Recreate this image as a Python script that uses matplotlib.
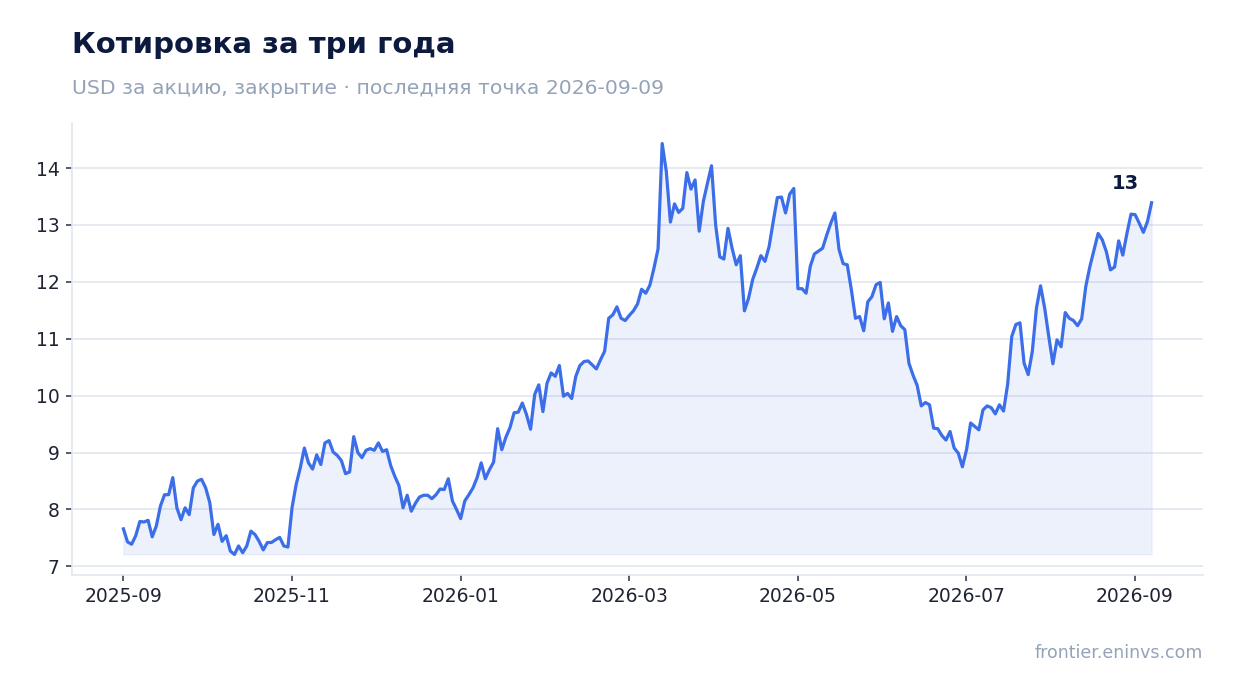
import matplotlib
matplotlib.use("Agg")
import matplotlib.pyplot as plt
import matplotlib.dates as mdates
import pandas as pd
import numpy as np

title = "Котировка за три года"
subtitle = "USD за акцию, закрытие · последняя точка 2026-09-09"
source = "frontier.eninvs.com"

start_date = "2025-09-01"
end_date = "2026-09-08"

prices = [
    7.66, 7.43, 7.39, 7.54, 7.79, 7.78, 7.81, 7.52, 7.71, 8.06,
    8.26, 8.26, 8.56, 8.03, 7.82, 8.03, 7.91, 8.38, 8.50, 8.53,
    8.38, 8.12, 7.56, 7.74, 7.44, 7.54, 7.27, 7.21, 7.36, 7.24,
    7.36, 7.62, 7.56, 7.44, 7.29, 7.42, 7.42, 7.47, 7.51, 7.36,
    7.34,
    8.03, 8.44, 8.73, 9.08, 8.82, 8.71, 8.96, 8.79, 9.17, 9.21,
    9.01, 8.95, 8.86, 8.63, 8.66, 9.28, 9.00, 8.91, 9.04, 9.07,
    9.04, 9.17, 9.02, 9.05, 8.77, 8.58, 8.42, 8.03, 8.25, 7.97,
    8.11, 8.22, 8.25, 8.25, 8.19, 8.26, 8.36, 8.35, 8.54, 8.15,
    8.00, 7.84, 8.15, 8.26, 8.38, 8.56, 8.82, 8.54, 8.70, 8.83,
    9.42, 9.05, 9.27, 9.44, 9.70, 9.71, 9.87, 9.67, 9.41,
    10.02, 10.19, 9.72, 10.22, 10.40, 10.34, 10.53, 9.99, 10.04, 9.95,
    10.34, 10.53, 10.60, 10.61, 10.54, 10.47, 10.63, 10.78, 11.36, 11.42,
    11.56, 11.36, 11.32, 11.41, 11.49, 11.61, 11.87, 11.80, 11.94, 12.24,
    12.58, 14.43, 13.94, 13.05, 13.37, 13.22, 13.29, 13.92, 13.63, 13.79,
    12.89, 13.41, 13.73, 14.04, 13.00, 12.44, 12.40, 12.94, 12.59, 12.30,
    12.46, 11.49, 11.71, 12.04, 12.24, 12.46, 12.36, 12.62, 13.06, 13.48,
    13.49, 13.21, 13.54, 13.64, 11.88, 11.88, 11.80, 12.27, 12.49, 12.54,
    12.59, 12.82, 13.03, 13.21, 12.57, 12.32, 12.30, 11.86, 11.36, 11.39,
    11.14, 11.65, 11.74, 11.95, 11.99, 11.35, 11.63, 11.13, 11.39, 11.23,
    11.16, 10.57, 10.36, 10.18, 9.82, 9.88, 9.84, 9.43, 9.42, 9.30,
    9.22, 9.37, 9.08, 8.99, 8.75, 9.05, 9.52, 9.46, 9.40, 9.75,
    9.82, 9.79, 9.68, 9.84, 9.73, 10.20, 11.04, 11.25, 11.28, 10.57,
    10.37, 10.78, 11.54, 11.93, 11.54, 11.04, 10.56, 10.98, 10.86, 11.46,
    11.36, 11.32, 11.23, 11.35, 11.92, 12.27, 12.56, 12.85, 12.74, 12.53,
    12.21, 12.26, 12.72, 12.47, 12.85, 13.19, 13.18, 13.03, 12.87, 13.06,
    13.39,
]

dates = pd.date_range(start_date, end_date, periods=len(prices))
xtick_dates = pd.date_range(start_date, periods=7, freq="61D")
yticks = [7, 8, 9, 10, 11, 12, 13, 14]

line_color = "#3b6ee8"
navy = "#0d1a3f"
gray = "#94a3b8"
grid_color = "#e2e8f0"
tick_color = "#1e2433"

fig = plt.figure(figsize=(12.34, 6.93), dpi=100)
ax = fig.add_axes([72 / 1234, 1 - 575 / 693, (1203 - 72) / 1234, (575 - 123) / 693])

ax.plot(dates, prices, color=line_color, lw=2.3, zorder=3, solid_joinstyle="round")
ax.fill_between(dates, prices, min(prices), color=line_color, alpha=0.09, lw=0.8, zorder=2)

ax.set_yticks(yticks)
ax.set_xticks(xtick_dates)
ax.xaxis.set_major_formatter(mdates.DateFormatter("%Y-%m"))

ax.grid(axis="y", color=grid_color, lw=1.2, zorder=0)
ax.grid(axis="x", visible=False)
ax.set_axisbelow(True)
for s in ["top", "right"]:
    ax.spines[s].set_visible(False)
for s in ["left", "bottom"]:
    ax.spines[s].set_color(grid_color)
    ax.spines[s].set_linewidth(1.2)
ax.tick_params(axis="both", colors="#374151", labelcolor=tick_color, labelsize=13.5,
               length=4, width=1.2, pad=5)

ax.annotate(f"{prices[-1]:.0f}", xy=(dates[-1], prices[-1]), xytext=(-19, 10),
            textcoords="offset points", ha="center", va="baseline",
            fontsize=14, fontweight="bold", color=navy, zorder=4)

fig.text(72 / 1234, 1 - 53 / 693, title, fontsize=21, fontweight="bold", color=navy,
         ha="left", va="baseline")
fig.text(72 / 1234, 1 - 94 / 693, subtitle, fontsize=14.7, color=gray,
         ha="left", va="baseline")
fig.text(1203 / 1234, 1 - 658 / 693, source, fontsize=12.5, color=gray,
         ha="right", va="baseline")

fig.savefig("out.png", dpi=100)
